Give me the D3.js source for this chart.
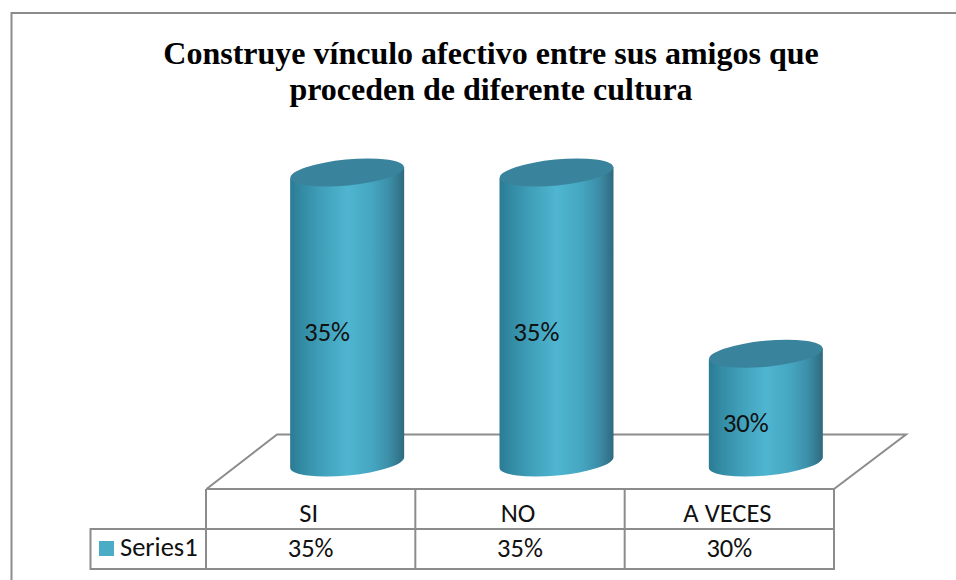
<!DOCTYPE html>
<html><head><meta charset="utf-8">
<style>html,body{margin:0;padding:0;background:#fff}svg{display:block}</style>
<script src="https://cdn.jsdelivr.net/npm/d3@7/dist/d3.min.js"></script></head>
<body><svg id="c" width="956" height="580"></svg>
<script>
const titleLines = ["Construye vínculo afectivo entre sus amigos que","proceden de diferente cultura"];
const categories = ["SI","NO","A VECES"];
const values = [35,35,30];
const seriesName = "Series1";

const svg = d3.select("#c");
const grey = "#8c8c8c";
const sans = "Carlito, Calibri, 'Open Sans', 'Noto Sans', sans-serif";
const defs = svg.append("defs");
const grad = defs.append("linearGradient").attr("id","cyl");
[[0,"#2b7b94"],[0.1,"#338aa3"],[0.28,"#40a0ba"],[0.5,"#4fb5d0"],[0.72,"#45a6c1"],[0.87,"#3c8ea8"],[1,"#2f6a7e"]]
 .forEach(([o,c])=>grad.append("stop").attr("offset",o).attr("stop-color",c));

svg.append("path").attr("d","M11.5,580V13H956").attr("fill","none").attr("stroke",grey).attr("stroke-width",2);

svg.selectAll("text.t").data(titleLines).join("text").attr("class","t")
 .attr("x",491).attr("y",(d,i)=>64+i*36).attr("text-anchor","middle")
 .attr("font-family","'Liberation Serif',serif").attr("font-weight","bold").attr("font-size",32).attr("fill","#000").text(d=>d);

const x = d3.scaleBand().domain(categories).range([206,834]);
const y = d3.scaleLinear().domain([27,35]).range([462.5,172.5]);
const depth = 36.5, rx = 57, ry = 13, tilt = -5.5;

// floor
svg.append("path").attr("d","M206.5,489L277,434.5H906L834,489").attr("fill","none").attr("stroke",grey).attr("stroke-width",2);

const g = svg.selectAll("g.b").data(values).join("g").attr("class","b");
g.each(function(d,i){
  const c = d3.select(this), cxv = x(categories[i])+x.bandwidth()/2+depth;
  const top=y(d), bot=y.range()[0];
  const dy=rx*Math.tan(-tilt*Math.PI/180);
  c.append("path")
   .attr("d",`M${cxv-rx},${top+dy}L${cxv-rx},${bot+dy}A${rx},${ry} ${tilt} 0 0 ${cxv+rx},${bot-dy}L${cxv+rx},${top-dy}Z`)
   .attr("fill","url(#cyl)");
  c.append("ellipse").attr("cx",cxv).attr("cy",top).attr("rx",rx).attr("ry",ry)
   .attr("transform",`rotate(${tilt} ${cxv} ${top})`).attr("fill","#3a839c");
  c.append("text").attr("x",cxv-20).attr("y",(top+bot)/2+23.5).attr("text-anchor","middle")
   .attr("font-family",sans).attr("font-size",26.5).attr("fill","#111").text(d+"%");
});

// table
const tab = svg.append("g").attr("fill","none").attr("stroke",grey).attr("stroke-width",2);
tab.append("path").attr("d","M206,489H834V569H90.5V529H834M206,489V569");
x.domain().slice(1).forEach(c=>tab.append("line").attr("x1",x(c)).attr("x2",x(c)).attr("y1",488).attr("y2",569));
svg.selectAll("text.c").data(categories).join("text").attr("class","c").attr("x",d=>x(d)+x.bandwidth()/2-2).attr("y",522)
 .attr("text-anchor","middle").attr("font-family",sans).attr("font-size",26.5).attr("fill","#111").text(d=>d);
svg.selectAll("text.v").data(values).join("text").attr("class","v").attr("x",(d,i)=>x(categories[i])+x.bandwidth()/2).attr("y",557)
 .attr("text-anchor","middle").attr("font-family",sans).attr("font-size",26.5).attr("fill","#111").text(d=>d+"%");
svg.append("rect").attr("x",99).attr("y",541).attr("width",15).attr("height",15).attr("fill","#4bacc6");
svg.append("text").attr("x",120).attr("y",556).attr("font-family",sans).attr("font-size",26.5).attr("fill","#111").text(seriesName);
</script></body></html>
